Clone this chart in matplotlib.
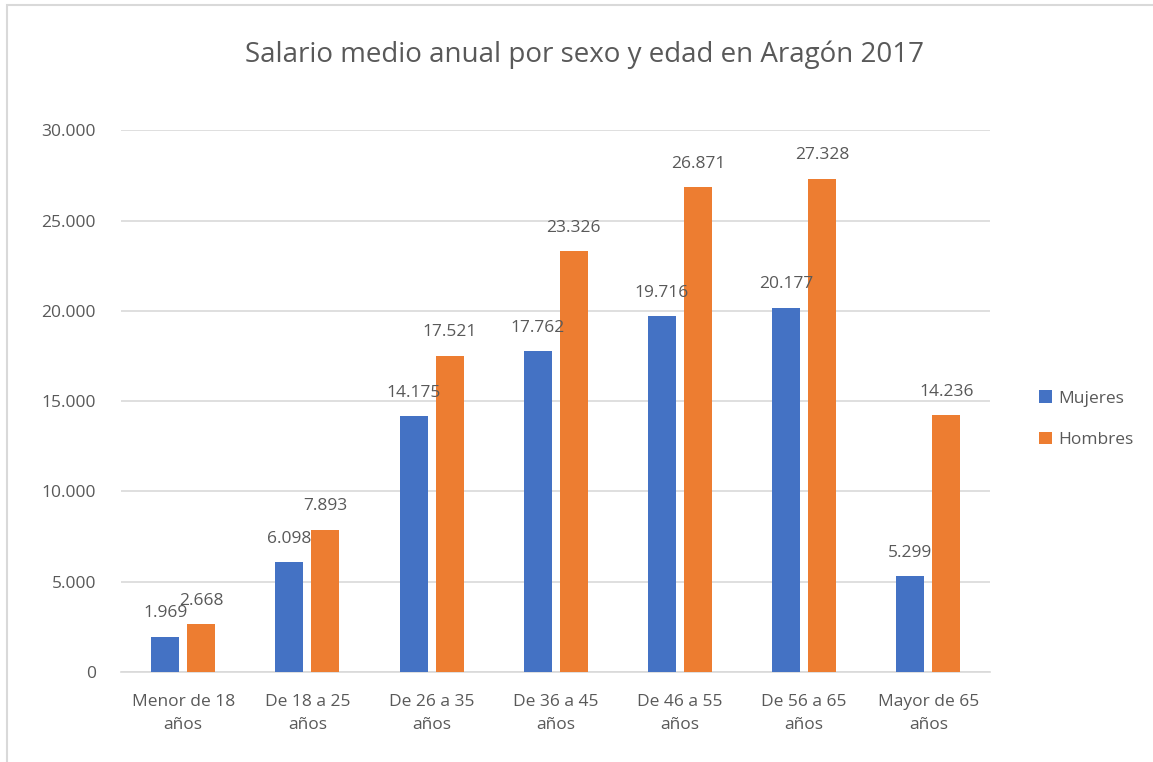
import numpy as np
import matplotlib.pyplot as plt
from matplotlib.patches import Rectangle

# data
categorias = ['Menor de 18\naños', 'De 18 a 25\naños', 'De 26 a 35\naños',
              'De 36 a 45\naños', 'De 46 a 55\naños', 'De 56 a 65\naños',
              'Mayor de 65\naños']
mujeres = [1969, 6098, 14175, 17762, 19716, 20177, 5299]
hombres = [2668, 7893, 17521, 23326, 26871, 27328, 14236]

azul = '#4472C4'
naranja = '#ED7D31'
gris = '#595959'

plt.rcParams['font.family'] = ['Open Sans', 'DejaVu Sans']


def fmt(v):
    # miles con punto
    return '{:,}'.format(int(v)).replace(',', '.')


fig = plt.figure(figsize=(11.53, 7.62), dpi=100)
ax = fig.add_axes([0.105, 0.118, 0.754, 0.711])

x = np.arange(len(categorias))
w = 0.226
off = 0.145
b1 = ax.bar(x - off, mujeres, w, color=azul, label='Mujeres', zorder=3)
b2 = ax.bar(x + off, hombres, w, color=naranja, label='Hombres', zorder=3)

for bars, vals in ((b1, mujeres), (b2, hombres)):
    for r, v in zip(bars, vals):
        ax.annotate(fmt(v), (r.get_x() + r.get_width() / 2, v),
                    xytext=(0, 11), textcoords='offset points',
                    ha='center', va='bottom', fontsize=12.5, color=gris)

ax.set_xlim(-0.5, len(categorias) - 0.5)
ax.set_ylim(0, 30000)
ax.set_yticks(range(0, 30001, 5000))
ax.set_yticklabels([fmt(v) for v in range(0, 30001, 5000)])
ax.set_xticks(x)
ax.set_xticklabels(categorias, linespacing=1.55)
ax.tick_params(axis='both', length=0, labelsize=12.5, labelcolor=gris)
ax.tick_params(axis='y', pad=18)
ax.tick_params(axis='x', pad=16)
ax.grid(axis='y', color='#D9D9D9', linewidth=1.2, zorder=0)
for s in ['top', 'right', 'left']:
    ax.spines[s].set_visible(False)
ax.spines['bottom'].set_color('#D9D9D9')
ax.spines['bottom'].set_linewidth(1.2)

fig.text(0.507, 0.928, 'Salario medio anual por sexo y edad en Aragón 2017',
         ha='center', va='center', fontsize=20, color=gris)

leg = fig.legend(handles=[b1, b2], loc='center left',
                 bbox_to_anchor=(0.888, 0.450), frameon=False,
                 fontsize=12.5, handlelength=0.7, handleheight=0.7,
                 handletextpad=0.4, labelspacing=1.45)
for t in leg.get_texts():
    t.set_color(gris)

# borde del gráfico
fig.add_artist(Rectangle((0.006, -0.05), 1.2, 1.043, transform=fig.transFigure,
                         fill=False, edgecolor='#D9D9D9', linewidth=1.5))

fig.savefig('out.png', dpi=100)
